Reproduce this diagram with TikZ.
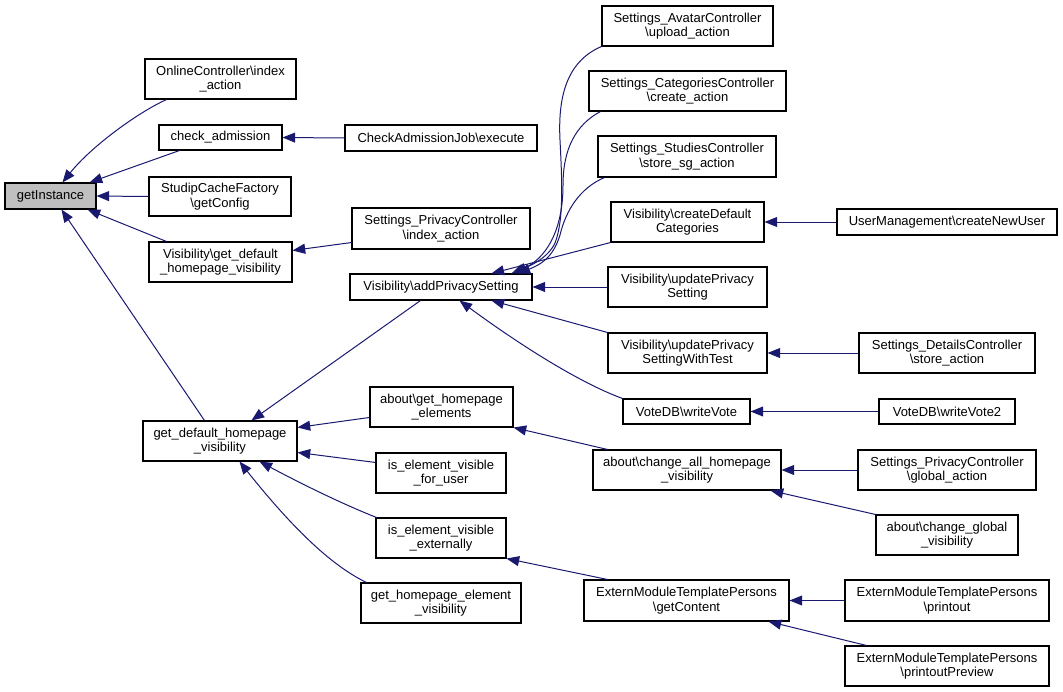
\documentclass[tikz,border=0pt]{standalone}
\usepackage{fontspec}
\setmainfont{Liberation Sans}
\usetikzlibrary{arrows.meta,calc}
\definecolor{edgeblue}{HTML}{191970}
\definecolor{rootgray}{HTML}{BFBFBF}
\newcommand{\bs}{\textbackslash}
\newcommand{\bx}[7]{\node[box,#7,minimum width={(#4-#2)*0.75pt},minimum height={(#5-#3)*0.75pt}] (#1) at ({(#2+#4)/2},{(#3+#5)/2}) {#6};}
\tikzset{
  box/.style={draw=black,line width=0.8pt,inner sep=0pt,align=center,font=\fontsize{9.75}{10.8}\selectfont,fill=white},
  rootbox/.style={fill=rootgray},
  plain/.style={},
  edge/.style={draw=edgeblue,line width=0.75pt,-{Triangle[length=9.5pt,width=7.5pt]}}
}
\begin{document}
\begin{tikzpicture}[x=0.75pt,y=-0.75pt]
\useasboundingbox (0,0) rectangle (1063,692);
% nodes
\bx{gi}{5}{183}{96}{209}{getInstance}{rootbox}
\bx{oc}{145}{59}{296}{99}{OnlineController\bs index\\\_action}{plain}
\bx{ca}{159}{125}{282}{150}{check\_admission}{plain}
\bx{caj}{345}{125}{537}{151}{CheckAdmissionJob\bs execute}{plain}
\bx{scf}{149}{177}{291}{216}{StudipCacheFactory\\\bs getConfig}{plain}
\bx{vgd}{149}{242}{292}{282}{Visibility\bs get\_default\\\_homepage\_visibility}{plain}
\bx{spi}{352}{208}{530}{249}{Settings\_PrivacyController\\\bs index\_action}{plain}
\bx{aps}{350}{274}{532}{300}{Visibility\bs addPrivacySetting}{plain}
\bx{sav}{602}{6}{773}{46}{Settings\_AvatarController\\\bs upload\_action}{plain}
\bx{scc}{589}{71}{786}{111}{Settings\_CategoriesController\\\bs create\_action}{plain}
\bx{ssc}{598}{136}{776}{177}{Settings\_StudiesController\\\bs store\_sg\_action}{plain}
\bx{cdc}{611}{202}{764}{242}{Visibility\bs createDefault\\Categories}{plain}
\bx{um}{837}{209}{1057}{235}{UserManagement\bs createNewUser}{plain}
\bx{ups}{608}{267}{767}{307}{Visibility\bs updatePrivacy\\Setting}{plain}
\bx{upt}{608}{333}{767}{373}{Visibility\bs updatePrivacy\\SettingWithTest}{plain}
\bx{sdc}{859}{333}{1035}{373}{Settings\_DetailsController\\\bs store\_action}{plain}
\bx{wv}{623}{399}{750}{424}{VoteDB\bs writeVote}{plain}
\bx{wv2}{879}{399}{1015}{424}{VoteDB\bs writeVote2}{plain}
\bx{gdh}{143}{421}{297}{461}{get\_default\_homepage\\\_visibility}{plain}
\bx{age}{370}{387}{513}{427}{about\bs get\_homepage\\\_elements}{plain}
\bx{ievu}{376}{453}{506}{493}{is\_element\_visible\\\_for\_user}{plain}
\bx{iee}{376}{518}{506}{558}{is\_element\_visible\\\_externally}{plain}
\bx{ghev}{361}{583}{521}{623}{get\_homepage\_element\\\_visibility}{plain}
\bx{cah}{593}{450}{781}{490}{about\bs change\_all\_homepage\\\_visibility}{plain}
\bx{spg}{858}{450}{1036}{490}{Settings\_PrivacyController\\\bs global\_action}{plain}
\bx{cgv}{876}{515}{1018}{555}{about\bs change\_global\\\_visibility}{plain}
\bx{emg}{584}{580}{789}{621}{ExternModuleTemplatePersons\\\bs getContent}{plain}
\bx{emp}{845}{580}{1049}{621}{ExternModuleTemplatePersons\\\bs printout}{plain}
\bx{emv}{845}{646}{1049}{686}{ExternModuleTemplatePersons\\\bs printoutPreview}{plain}
% edges into getInstance
\draw[edge] ($(oc.south west)+(22,0)$) .. controls (135,114) and (90,148) .. ($(gi.north west)+(58,0)$);
\draw[edge] ($(ca.south west)+(21,0)$) -- ($(gi.north east)+(-7,0)$);
\draw[edge] (scf.west) -- (gi.east);
\draw[edge] ($(vgd.north west)+(18,0)$) -- ($(gi.south east)+(-9,0)$);
\draw[edge] ($(gdh.north west)+(62,0)$) -- ($(gi.south west)+(57,0)$);
% second level
\draw[edge] (caj.west) -- (ca.east);
\draw[edge] ($(spi.south west)+(0,-7)$) -- ($(vgd.north east)+(0,9)$);
\draw[edge] ($(aps.south west)+(71,0)$) -- ($(gdh.north west)+(109,0)$);
\draw[edge] ($(age.north west)+(0,31)$) -- ($(gdh.north east)+(0,7)$);
\draw[edge] ($(ievu.north west)+(0,10)$) -- ($(gdh.north east)+(0,32)$);
\draw[edge] ($(iee.north west)+(1,0)$) .. controls (340,503) and (300,483) .. ($(gdh.south west)+(117,0)$);
\draw[edge] ($(ghev.north west)+(6,0)$) .. controls (330,565) and (290,525) .. ($(gdh.south west)+(97,0)$);
% into addPrivacySetting
\draw[edge] (sav.south west) .. controls (565,62) and (558,100) .. (560,140) .. controls (562,180) and (564,220) .. (555,243) .. controls (548,258) and (530,266) .. ($(aps.north west)+(162,0)$);
\draw[edge] ($(scc.south west)+(12,0)$) .. controls (575,125) and (563,150) .. (563,185) .. controls (563,225) and (550,255) .. ($(aps.north west)+(165,0)$);
\draw[edge] ($(ssc.south west)+(7,0)$) .. controls (580,188) and (566,210) .. (560,235) .. controls (553,258) and (540,265) .. ($(aps.north west)+(168,0)$);
\draw[edge] (cdc.south west) -- ($(aps.north west)+(142,0)$);
\draw[edge] (ups.west) -- (aps.east);
\draw[edge] (upt.north west) -- ($(aps.south west)+(142,0)$);
\draw[edge] (wv.north west) .. controls (580,383) and (520,345) .. ($(aps.south west)+(110,0)$);
% right columns
\draw[edge] (um.west) -- (cdc.east);
\draw[edge] (sdc.west) -- (upt.east);
\draw[edge] (wv2.west) -- (wv.east);
\draw[edge] ($(cah.north west)+(15,0)$) -- (age.south east);
\draw[edge] (spg.west) -- (cah.east);
\draw[edge] (cgv.north west) -- ($(cah.south east)+(-11,0)$);
\draw[edge] ($(emg.north west)+(24,0)$) -- (iee.south east);
\draw[edge] (emp.west) -- (emg.east);
\draw[edge] ($(emv.north west)+(22,0)$) -- ($(emg.south east)+(-21,0)$);
\end{tikzpicture}
\end{document}
